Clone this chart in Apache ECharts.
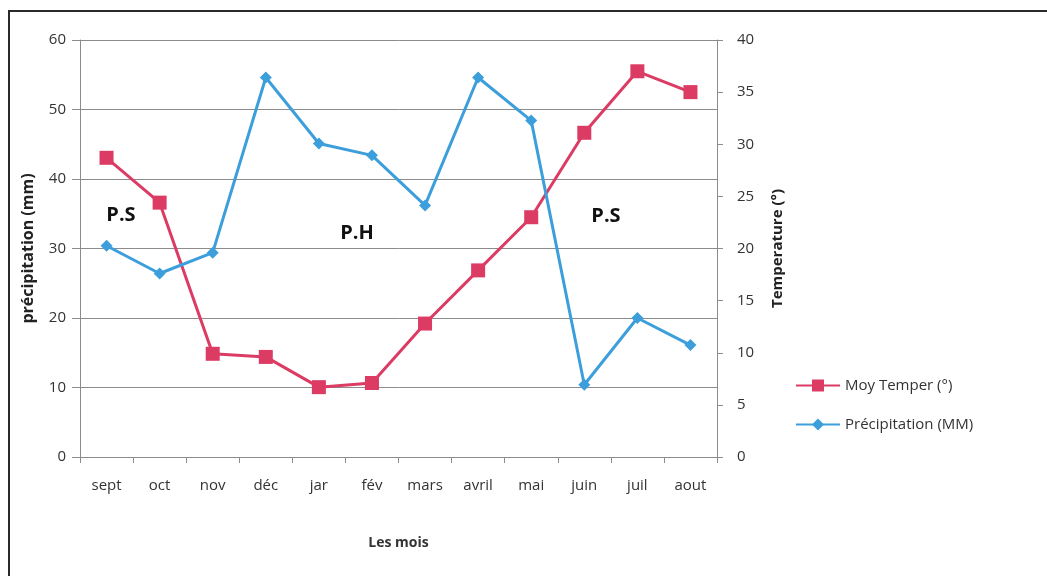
<!DOCTYPE html>
<html>
<head>
<meta charset="utf-8">
<script src="https://cdn.jsdelivr.net/npm/echarts@6/dist/echarts.min.js"></script>
<style>
  html, body { margin: 0; padding: 0; background: #fff; }
  #chart { width: 1047px; height: 576px; }
</style>
</head>
<body>
<div id="chart"></div>
<script>
// Mois de l'année hydrologique (septembre à août)
const months = ['sept', 'oct', 'nov', 'déc', 'jar', 'fév', 'mars', 'avril', 'mai', 'juin', 'juil', 'aout'];
// Température moyenne mensuelle (°)
const temperature = [28.7, 24.4, 9.9, 9.6, 6.7, 7.1, 12.8, 17.9, 23.0, 31.1, 37.0, 35.0];
// Précipitations mensuelles (mm)
const precipitation = [30.4, 26.4, 29.4, 54.6, 45.1, 43.4, 36.2, 54.6, 48.4, 10.4, 20.0, 16.1];
// Graduations des axes
const precipTicks = { min: 0, max: 60, interval: 10 };
const tempTicks = { min: 0, max: 40, interval: 5 };

const FONT = 'Open Sans';
const RED = '#dc3b64';
const BLUE = '#3c9fdc';
const GRID_GRAY = '#8c8c8c';

const chart = echarts.init(document.getElementById('chart'), null, { renderer: 'canvas' });

chart.setOption({
  backgroundColor: '#fff',
  animation: false,
  textStyle: { fontFamily: FONT },
  grid: { left: 80, right: 330, top: 40, bottom: 119 },
  legend: {
    orient: 'vertical',
    left: 790,
    top: 373,
    itemGap: 24,
    itemWidth: 44,
    itemHeight: 15,
    textStyle: { fontFamily: FONT, fontSize: 15, color: '#333' },
    data: ['Moy Temper (°)', 'Précipitation (MM)']
  },
  xAxis: {
    type: 'category',
    data: months,
    boundaryGap: true,
    name: 'Les mois',
    nameLocation: 'middle',
    nameGap: 79,
    nameTextStyle: { fontFamily: FONT, fontSize: 14, fontWeight: 'bold', color: '#333' },
    axisLine: { lineStyle: { color: GRID_GRAY, width: 1 } },
    axisTick: { show: true, length: 6, alignWithLabel: false, lineStyle: { color: GRID_GRAY } },
    axisLabel: { fontFamily: FONT, fontSize: 15, color: '#333', margin: 21, interval: 0 },
    splitLine: { show: false }
  },
  yAxis: [
    {
      type: 'value',
      position: 'left',
      min: precipTicks.min,
      max: precipTicks.max,
      interval: precipTicks.interval,
      name: 'précipitation (mm)',
      nameLocation: 'middle',
      nameRotate: 90,
      nameGap: 44,
      nameTextStyle: { fontFamily: FONT, fontSize: 16, fontWeight: 'bold', color: '#222' },
      axisLine: { show: true, lineStyle: { color: GRID_GRAY, width: 1 } },
      axisTick: { show: true, length: 8, lineStyle: { color: GRID_GRAY } },
      axisLabel: { fontFamily: FONT, fontSize: 15, color: '#333', margin: 14 },
      splitLine: { show: true, lineStyle: { color: GRID_GRAY, width: 1 } }
    },
    {
      type: 'value',
      position: 'right',
      min: tempTicks.min,
      max: tempTicks.max,
      interval: tempTicks.interval,
      name: 'Temperature (°)',
      nameLocation: 'middle',
      nameRotate: 90,
      nameGap: 53,
      nameTextStyle: { fontFamily: FONT, fontSize: 15, fontWeight: 'bold', color: '#222' },
      axisLine: { show: true, lineStyle: { color: GRID_GRAY, width: 1 } },
      axisTick: { show: true, length: 6, lineStyle: { color: GRID_GRAY } },
      axisLabel: { fontFamily: FONT, fontSize: 15, color: '#333', margin: 20 },
      splitLine: { show: false }
    }
  ],
  series: [
    {
      name: 'Moy Temper (°)',
      type: 'line',
      yAxisIndex: 1,
      data: temperature,
      symbol: 'rect',
      symbolSize: 14,
      lineStyle: { color: RED, width: 3 },
      itemStyle: { color: RED },
      z: 2
    },
    {
      name: 'Précipitation (MM)',
      type: 'line',
      yAxisIndex: 0,
      data: precipitation,
      symbol: 'diamond',
      symbolSize: 12,
      lineStyle: { color: BLUE, width: 3 },
      itemStyle: { color: BLUE },
      z: 3
    }
  ],
  graphic: [
    // cadre de la figure
    {
      type: 'rect',
      shape: { x: 9, y: 11, width: 1060, height: 570 },
      style: { fill: 'none', stroke: '#2a2a2a', lineWidth: 2 },
      silent: true
    },
    // périodes sèche / humide
    {
      type: 'text', x: 121, y: 215,
      style: { text: 'P.S', font: 'bold 20px "Open Sans"', fill: '#111', align: 'center', verticalAlign: 'middle' }
    },
    {
      type: 'text', x: 357, y: 233,
      style: { text: 'P.H', font: 'bold 20px "Open Sans"', fill: '#111', align: 'center', verticalAlign: 'middle' }
    },
    {
      type: 'text', x: 606, y: 216,
      style: { text: 'P.S', font: 'bold 20px "Open Sans"', fill: '#111', align: 'center', verticalAlign: 'middle' }
    }
  ]
});
</script>
</body>
</html>
